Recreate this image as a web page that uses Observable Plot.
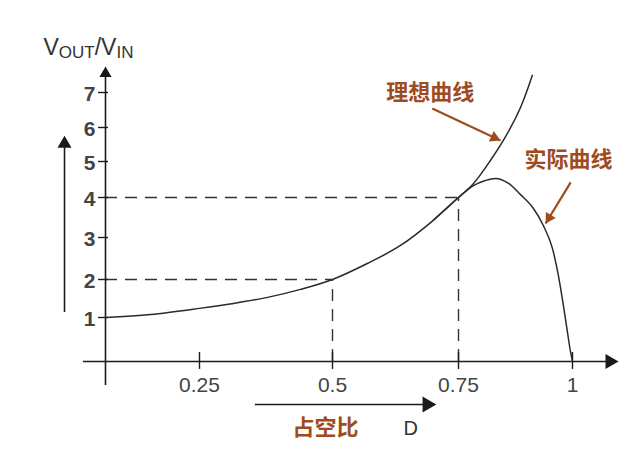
<!DOCTYPE html>
<html><head><meta charset="utf-8">
<script src="https://cdn.jsdelivr.net/npm/d3@7"></script>
<script src="https://cdn.jsdelivr.net/npm/@observablehq/plot@0.6"></script>
<style>body{margin:0;background:#fff}</style>
</head><body><div id="chart"></div>
<script>
// ---- data ----
const xTicks = [0.25, 0.5, 0.75, 1];
const xTickLabels = ["0.25", "0.5", "0.75", "1"];
const yTicks = [1, 2, 3, 4, 5, 6, 7];

const idealD = [0, 0.120, 0.25, 0.314, 0.378, 0.440, 0.5, 0.569, 0.635, 0.700, 0.75, 0.783, 0.820, 0.857, 0.886, 0.912];
const idealV = [1, 1.08, 1.24, 1.37, 1.53, 1.74, 2, 2.38, 2.81, 3.43, 4, 4.39, 5.03, 5.82, 6.57, 7.49];

const actualD = [0.700, 0.75, 0.783, 0.809, 0.831, 0.860, 0.886, 0.914, 0.936, 0.956, 0.969, 0.980, 0.989, 0.996, 1];
const actualV = [3.43, 4, 4.33, 4.47, 4.53, 4.39, 4.08, 3.73, 3.30, 2.74, 2.10, 1.32, 0.66, 0.20, 0];

const guideD = [0.5, 0.75];
const guideV = [2, 4];

const noteText = ["理想曲线", "实际曲线"];
const noteD = [0.694, 0.991];
const noteV = [7.0, 5.06];
const noteFromD = [0.698, 0.996];
const noteFromV = [6.54, 4.42];
const noteToD = [0.842, 0.941];
const noteToV = [5.62, 3.35];

// ---- hand-drawn (uneven) axes reproduced as piecewise scales ----
const xScale = {type: "linear", domain: [0, 0.25, 0.5, 0.75, 1], range: [105, 199, 332, 458, 572]};
const yScale = {type: "linear", domain: [0, 1, 2, 3, 4, 5, 6, 7], range: [361, 317, 279, 237, 197, 161, 127, 92]};
const sx = Plot.scale({x: xScale});
const sy = Plot.scale({y: yScale});

const ideal = idealD.map((d, i) => ({d, v: idealV[i]}));
const actual = actualD.map((d, i) => ({d, v: actualV[i]}));
const guides = guideD.map((d, i) => ({d, v: guideV[i]}));
const notes = noteText.map((t, i) => ({t, d: noteD[i], v: noteV[i]}));
const noteArrows = noteText.map((t, i) => ({x1: noteFromD[i], y1: noteFromV[i], x2: noteToD[i], y2: noteToV[i]}));

const ink = "#1a1a1a";
const brown = "#9e4c1d";

function head(tip, from, r, fill) {
  const px = sx.apply(tip[0]) - sx.apply(from[0]);
  const py = sy.apply(tip[1]) - sy.apply(from[1]);
  const len = Math.hypot(px, py);
  const ux = px / len, uy = py / len;
  const rot = Math.atan2(ux, -uy) * 180 / Math.PI;
  const side = Math.sqrt(Math.PI * r * r / (Math.sqrt(3) * 3));
  const dist = 2 * side;
  return Plot.dot([{x: tip[0], y: tip[1]}], {
    x: "x", y: "y", symbol: "triangle", r, fill, stroke: "none",
    rotate: rot, dx: -dist * ux, dy: -dist * uy
  });
}

const fontLatin = "Liberation Sans, Arial, sans-serif";
const fontCJK = "Noto Sans CJK SC, sans-serif";

const marks = [
  // dashed guides
  Plot.ruleY(guides, {y: "v", x1: () => 0, x2: "d", stroke: "#333", strokeWidth: 1.4, strokeDasharray: "12,8"}),
  Plot.ruleX(guides, {x: "d", y1: () => 0, y2: "v", stroke: "#333", strokeWidth: 1.4, strokeDasharray: "12,8"}),
  // axes
  Plot.ruleY([{y: 0, x1: -0.0585, x2: 1.09}], {y: "y", x1: "x1", x2: "x2", stroke: ink, strokeWidth: 1.6}),
  Plot.ruleX([{x: 0, y1: -0.545, y2: 7.6}], {x: "x", y1: "y1", y2: "y2", stroke: ink, strokeWidth: 1.6}),
  head([1.101, 0], [1.0, 0], 5.6, ink),
  head([0, 7.74], [0, 7.0], 4.5, ink),
  // ticks
  Plot.ruleY(yTicks, {y: d => d, x1: () => -0.0186, x2: () => 0.008, stroke: ink, strokeWidth: 1.4}),
  Plot.ruleX(xTicks, {x: d => d, y1: () => -0.18, y2: () => 0.205, stroke: ink, strokeWidth: 1.4}),
  Plot.text(xTicks, {x: d => d, y: () => 0, text: (d, i) => xTickLabels[i], dy: 24, fontSize: 21, fill: "#444", fontFamily: fontLatin}),
  Plot.text(yTicks, {x: () => 0, y: d => d, text: d => String(d), dx: -10, dy: 2, textAnchor: "end", fontSize: 21, fontWeight: "bold", fill: "#444", fontFamily: fontLatin}),
  // side arrows
  Plot.ruleX([{x: -0.109, y1: 1.13, y2: 5.5}], {x: "x", y1: "y1", y2: "y2", stroke: ink, strokeWidth: 1.6}),
  head([-0.109, 5.76], [-0.109, 5.0], 5.2, ink),
  Plot.ruleY([{y: -0.977, x1: 0.355, x2: 0.69}], {y: "y", x1: "x1", x2: "x2", stroke: ink, strokeWidth: 1.6}),
  head([0.706, -0.977], [0.6, -0.977], 5.9, ink),
  // curves
  Plot.line(ideal, {x: "d", y: "v", curve: "catmull-rom", stroke: "#2a2a2a", strokeWidth: 1.5}),
  Plot.line(actual, {x: "d", y: "v", curve: "monotone-x", stroke: "#2a2a2a", strokeWidth: 1.5}),
  // annotations
  Plot.link(noteArrows, {x1: "x1", y1: "y1", x2: "x2", y2: "y2", stroke: brown, strokeWidth: 2.2}),
  ...noteArrows.map(a => head([a.x2, a.y2], [a.x1, a.y1], 4.3, brown)),
  Plot.text(notes, {x: "d", y: "v", text: "t", fontSize: 22, fontWeight: "bold", fill: brown, fontFamily: fontCJK}),
  Plot.text([{d: 0.487, v: -1.52, t: "占空比"}], {x: "d", y: "v", text: "t", fontSize: 22, fontWeight: "bold", fill: brown, fontFamily: fontCJK}),
  Plot.text([{d: 0.655, v: -1.52, t: "D"}], {x: "d", y: "v", text: "t", fontSize: 20, fill: "#333", fontFamily: fontLatin}),
  Plot.text([{d: -0.165, v: 8.06, t: "VOUT/VIN"}], {x: "d", y: "v", text: "t", textAnchor: "start", lineAnchor: "bottom", fontSize: 23, fill: "#333", fontFamily: fontLatin})
];

const chart = Plot.plot({
  width: 640, height: 462,
  margin: 0,
  x: {...xScale, axis: null},
  y: {...yScale, axis: null},
  style: {background: "#fff", overflow: "visible"},
  marks
});

// subscript formatting of the y-axis title
chart.querySelectorAll("text").forEach(t => {
  if (t.textContent === "VOUT/VIN") {
    t.textContent = "";
    const parts = [["V", 23, 0], ["OUT", 17, 3], ["/", 23, -3], ["V", 23, 0], ["IN", 17, 3]];
    parts.forEach(([s, fs, dy]) => {
      const sp = document.createElementNS("http://www.w3.org/2000/svg", "tspan");
      sp.setAttribute("font-size", fs);
      if (dy) sp.setAttribute("dy", dy);
      sp.textContent = s;
      t.appendChild(sp);
    });
  }
});

document.getElementById("chart").appendChild(chart);
</script>
</body></html>
